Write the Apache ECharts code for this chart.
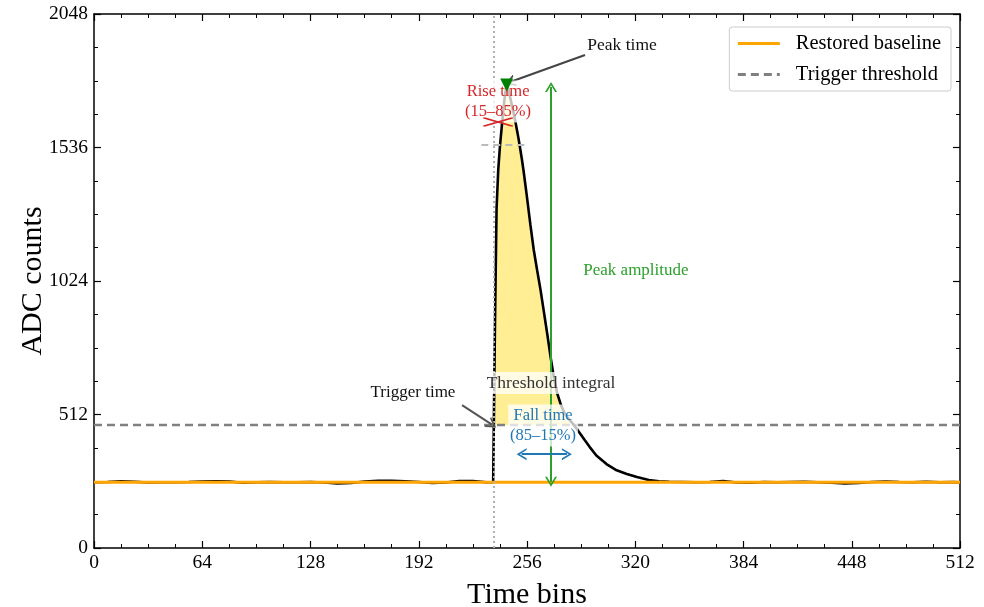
<!DOCTYPE html>
<html>
<head>
<meta charset="utf-8">
<script src="https://cdn.jsdelivr.net/npm/echarts@6/dist/echarts.min.js"></script>
<style>
  html, body { margin: 0; padding: 0; background: #fff; }
  #chart { width: 984px; height: 607px; }
</style>
</head>
<body>
<div id="chart"></div>
<script>
// waveform samples (time bin, ADC counts)
let timeBins = [
    0, 8, 16, 24, 32, 40, 48, 56, 64, 72, 80, 88, 96, 104, 112, 120, 128, 136, 144, 152,
    160, 168, 176, 184, 192, 200, 208, 216, 224, 232, 236,
    237, 238, 239, 240, 241, 242, 243, 244, 245, 246, 247, 248, 249, 250, 251, 252, 253, 254, 255, 256,
    258, 260, 262, 264, 266, 268, 270, 272, 274, 276, 278, 280, 283, 286, 290, 293, 297, 303, 309, 315,
    321, 328, 334, 340, 348, 356, 364, 372, 380, 388, 396, 404, 412, 420, 428, 436, 444, 452, 460, 468,
    476, 484, 492, 500, 508, 512
];
let adcCounts = [
    252, 253, 256, 254, 251, 252, 252, 253, 255, 256, 255, 250, 252, 253, 252, 252, 253, 251, 248, 249,
    255, 258, 258, 256, 253, 249, 251, 257, 257, 252, 252,
    820, 1300, 1450, 1540, 1610, 1680, 1740, 1776, 1760, 1730, 1700, 1670, 1640, 1605, 1570, 1530, 1490, 1445, 1395, 1345,
    1240, 1143, 1065, 990, 905, 820, 730, 650, 590, 550, 520, 500, 478, 452, 415, 388, 355, 322, 298, 284,
    272, 261, 256, 254, 253, 252, 253, 257, 251, 250, 253, 252, 253, 254, 252, 250, 248, 249, 253, 255,
    253, 252, 254, 252, 253, 252
];

let baselineLevel = 252;
let thresholdLevel = 472;
let triggerBin = 236.5;
let peakBin = 244;
let peakCounts = 1776;
let level85 = 1547;
let fallStartBin = 252.8;
let fallEndBin = 279.6;

let seriesNames = ['Restored baseline', 'Trigger threshold'];

const FONT = 'Liberation Serif';
const chevron = 'path://M0,10 L5,0 L10,10 L8.4,10 L5,3.2 L1.6,10 Z';
const crossPath = 'path://M0,0 L2.5,0 L30,8 L30,9 L27.5,9 L0,1 Z M0,9 L0,8 L27.5,0 L30,0 L30,1 L2.5,9 Z';

let trace = timeBins.map((t, i) => [t, adcCounts[i]]);
let pulse = trace.filter(p => p[0] >= 236 && p[0] <= 290);

function arrowLine(from, to, color, both) {
    return [
        { coord: from, symbol: both ? chevron : 'none', symbolSize: [12, 10] },
        { coord: to, symbol: chevron, symbolSize: [12, 10], lineStyle: { color: color, width: 2, type: 'solid' } }
    ];
}

function textItem(text, pos, color, withBox, size) {
    return {
        value: pos,
        label: {
            show: true,
            position: 'inside',
            formatter: text,
            color: color,
            fontFamily: FONT,
            fontSize: size || 17.5,
            lineHeight: 20,
            align: 'center',
            verticalAlign: 'middle',
            backgroundColor: withBox ? 'rgba(255,255,255,0.75)' : 'transparent',
            padding: withBox ? [1, 2] : 0
        }
    };
}

let chart = echarts.init(document.getElementById('chart'), null, { renderer: 'canvas' });

let axisCommon = {
    type: 'value',
    splitLine: { show: false },
    axisLine: { onZero: false, lineStyle: { color: '#000', width: 1.5 } },
    axisTick: { inside: true, length: 7, lineStyle: { color: '#000', width: 1.2 } },
    minorTick: { show: true, splitNumber: 4, length: 4, lineStyle: { color: '#000', width: 1 } }
};

let option = {
    animation: false,
    backgroundColor: '#fff',
    grid: { left: 94, right: 24, top: 14, bottom: 59, containLabel: false, outerBoundsMode: 'none' },
    legend: {
        data: seriesNames,
        orient: 'vertical',
        right: 33,
        top: 27,
        padding: [6, 10, 6, 7],
        itemGap: 10,
        itemWidth: 42,
        itemHeight: 20,
        borderColor: '#cccccc',
        borderWidth: 1,
        borderRadius: 3,
        itemStyle: { opacity: 0 },
        lineStyle: { width: 3 },
        textStyle: { fontFamily: FONT, fontSize: 20.5, color: '#000', padding: [0, 0, 0, 11] }
    },
    xAxis: [
        Object.assign({}, axisCommon, {
            min: 0, max: 512, interval: 64,
            axisLabel: { fontFamily: FONT, fontSize: 19.5, color: '#000', margin: 5, formatter: v => String(v) },
            name: 'Time bins',
            nameLocation: 'middle',
            nameGap: 32,
            nameTextStyle: { fontFamily: FONT, fontSize: 30, color: '#000' }
        }),
        Object.assign({}, axisCommon, {
            position: 'top', min: 0, max: 512, interval: 64,
            axisLabel: { show: false }
        })
    ],
    yAxis: [
        Object.assign({}, axisCommon, {
            min: 0, max: 2048, interval: 512,
            axisLabel: { fontFamily: FONT, fontSize: 19.5, color: '#000', margin: 6, formatter: v => String(v) },
            name: 'ADC counts',
            nameLocation: 'middle',
            nameGap: 46,
            nameMoveOverlap: false,
            nameTextStyle: { fontFamily: FONT, fontSize: 30, color: '#000' }
        }),
        Object.assign({}, axisCommon, {
            position: 'right', min: 0, max: 2048, interval: 512,
            axisLabel: { show: false }
        })
    ],
    series: [
        {
            name: 'threshold integral', type: 'custom', data: [0], silent: true, z: 1,
            renderItem: function (params, api) {
                let pts = pulse.map(p => api.coord([p[0], Math.max(p[1], thresholdLevel)]));
                return {
                    type: 'polygon',
                    shape: { points: pts },
                    style: { fill: 'rgba(255,215,0,0.42)', stroke: null }
                };
            }
        },
        {
            name: 'Trigger threshold', type: 'line',
            data: [[0, thresholdLevel], [512, thresholdLevel]],
            symbol: 'none',
            lineStyle: { color: '#808080', width: 2.5, type: [8, 5] },
            itemStyle: { color: '#808080' },
            z: 2
        },
        {
            name: 'waveform', type: 'line', data: trace,
            symbol: 'none',
            lineStyle: { color: '#000', width: 2.6 },
            z: 3
        },
        {
            name: 'Restored baseline', type: 'line',
            data: [[0, baselineLevel], [512, baselineLevel]],
            symbol: 'none',
            lineStyle: { color: '#ffa500', width: 3 },
            itemStyle: { color: '#ffa500' },
            z: 4
        },
        {
            name: 'marks', type: 'line', data: [[peakBin, peakCounts]],
            symbol: 'none', lineStyle: { opacity: 0 }, z: 5,
            markLine: {
                silent: true,
                label: { show: false },
                data: [
                    [{ coord: [triggerBin, 0], symbol: 'none' },
                     { coord: [triggerBin, 2048], symbol: 'none', lineStyle: { color: '#b0b0b0', width: 2, type: [2, 3] } }],
                    [{ coord: [229, level85], symbol: 'none' },
                     { coord: [256, level85], symbol: 'none', lineStyle: { color: '#bbbbbb', width: 2, type: [7, 5] } }],
                    arrowLine([270.2, baselineLevel + 2], [270.2, peakCounts - 8], '#2ca02c', true),
                    arrowLine([fallStartBin, 360], [fallEndBin, 360], '#1f77b4', true),
                    arrowLine([290.3, 1891], [246, 1787], '#444444', false),
                    arrowLine([217.6, 548], [235.3, 473], '#555555', false)
                ]
            }
        },
        {
            name: 'labels', type: 'scatter', symbolSize: 0, z: 6, silent: true,
            itemStyle: { opacity: 1 },
            data: [
                textItem('Peak time', [312.2, 1929], '#111'),
                textItem('Rise time\n(15–85%)', [238.9, 1712], '#d62728', true, 16.5),
                textItem('Peak amplitude', [320.4, 1066], '#2ca02c', false, 17),
                textItem('Threshold integral', [270.2, 633], '#333', true, 17.5),
                textItem('Trigger time', [188.6, 598], '#111', false, 17),
                textItem('Fall time\n(85–15%)', [265.5, 470], '#1f77b4', true, 16.5)
            ]
        },
        {
            name: 'rise cross', type: 'scatter', z: 7, silent: true,
            data: [[238.9, 1634]],
            symbol: crossPath, symbolSize: [30, 9],
            itemStyle: { color: '#d62728', opacity: 1 }
        },
        {
            name: 'peak marker', type: 'scatter', z: 8, silent: true,
            data: [[peakBin, peakCounts]],
            symbol: 'triangle', symbolRotate: 180, symbolSize: 13,
            itemStyle: { color: '#008000', opacity: 1 }
        }
    ]
};

chart.setOption(option);
</script>
</body>
</html>
